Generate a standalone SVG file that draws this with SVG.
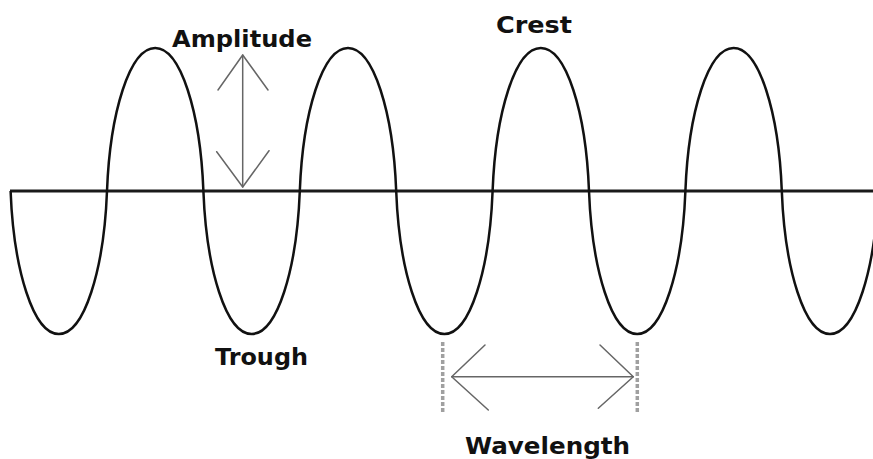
<svg xmlns="http://www.w3.org/2000/svg" width="873" height="459" viewBox="0 0 873 459">
<style>
.lbl{font-family:"DejaVu Sans","Liberation Sans",sans-serif;font-weight:bold;font-size:23px;fill:#111}
.wave{fill:none;stroke:#111;stroke-width:2.5}
.axis{stroke:#1a1a1a;stroke-width:3}
.arr{fill:none;stroke:#666;stroke-width:1.5;stroke-linecap:round;stroke-linejoin:round}
.dash{stroke:#a0a0a0;stroke-width:3.5;stroke-dasharray:4 2}
</style>
<rect width="873" height="459" fill="#fff"/>
<g id="axis"><line class="axis" x1="10" y1="191" x2="873" y2="191"/></g>
<g id="wave">
<path class="wave" d="M10.6,191 C13.6,269.65 33.3,334 58.8,334 C84.3,334 104,269.65 107,191 C110,112.35 129.7,48 155.2,48 C180.7,48 200.4,112.35 203.4,191 C206.4,269.65 226.1,334 251.6,334 C277.1,334 296.8,269.65 299.8,191 C302.8,112.35 322.5,48 348,48 C373.5,48 393.2,112.35 396.2,191 C399.2,269.65 418.9,334 444.4,334 C469.9,334 489.6,269.65 492.6,191 C495.6,112.35 515.3,48 540.8,48 C566.3,48 586,112.35 589,191 C592,269.65 611.7,334 637.2,334 C662.7,334 682.4,269.65 685.4,191 C688.4,112.35 708.1,48 733.6,48 C759.1,48 778.8,112.35 781.8,191 C784.8,269.65 804.5,334 830,334 C855.5,334 875.2,269.65 878.2,191"/>
</g>
<g id="connectors">
<g id="amplitude-arrow">
<line class="arr" x1="242.7" y1="55" x2="242.7" y2="187"/>
<polyline class="arr" points="218,90 242.7,55 268,90"/>
<polyline class="arr" points="216.7,151.7 242.7,187 269,150.7"/>
</g>
<g id="wavelength-arrow">
<line class="dash" x1="442.7" y1="342" x2="442.7" y2="413"/>
<line class="dash" x1="637.3" y1="342" x2="637.3" y2="413"/>
<line class="arr" x1="451.7" y1="376.7" x2="633.3" y2="376.7"/>
<polyline class="arr" points="485,345 451.7,376.7 488.3,410"/>
<polyline class="arr" points="600,345 633.3,376.7 598.3,408.3"/>
</g>
</g>
<g id="label-amplitude"><text class="lbl" x="172" y="47" textLength="140" lengthAdjust="spacingAndGlyphs">Amplitude</text></g>
<g id="label-crest"><text class="lbl" x="496" y="33" textLength="76" lengthAdjust="spacingAndGlyphs">Crest</text></g>
<g id="label-trough"><text class="lbl" x="215" y="365" textLength="93" lengthAdjust="spacingAndGlyphs">Trough</text></g>
<g id="label-wavelength"><text class="lbl" x="465" y="454" textLength="165" lengthAdjust="spacingAndGlyphs">Wavelength</text></g>
</svg>
